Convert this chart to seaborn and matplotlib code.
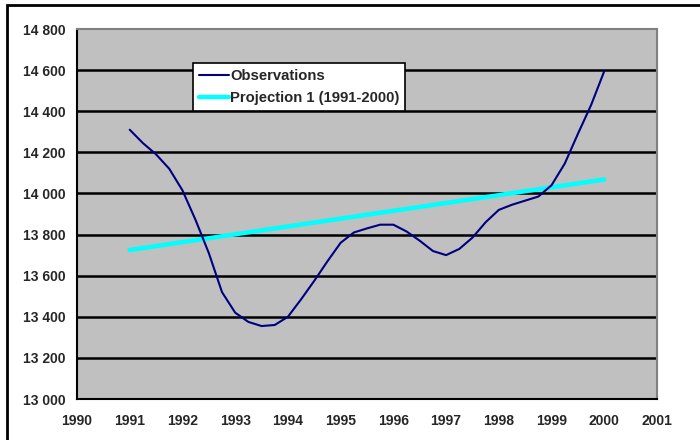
import pandas as pd
import matplotlib
matplotlib.use('Agg')
import matplotlib.pyplot as plt
from matplotlib.patches import Rectangle
from matplotlib.ticker import FuncFormatter
import seaborn as sns

# quarterly observations
obs_year = [1991.00, 1991.25, 1991.50, 1991.75, 1992.00, 1992.25, 1992.50, 1992.75,
            1993.00, 1993.25, 1993.50, 1993.75, 1994.00, 1994.25, 1994.50, 1994.75,
            1995.00, 1995.25, 1995.50, 1995.75, 1996.00, 1996.25, 1996.50, 1996.75,
            1997.00, 1997.25, 1997.50, 1997.75, 1998.00, 1998.25, 1998.50, 1998.75,
            1999.00, 1999.25, 1999.50, 1999.75, 2000.00]
obs_value = [14310, 14245, 14190, 14120, 14015, 13870, 13710, 13520,
             13420, 13375, 13355, 13360, 13400, 13485, 13575, 13670,
             13760, 13810, 13830, 13848, 13848, 13815, 13770, 13720,
             13700, 13730, 13785, 13860, 13920, 13945, 13965, 13985,
             14040, 14145, 14290, 14430, 14595]

proj_year = [1991, 2000]
proj_value = [13725, 14068]

x_ticks = list(range(1990, 2002))
y_ticks = list(range(13000, 14801, 200))

df_obs = pd.DataFrame({'year': obs_year, 'value': obs_value})
df_proj = pd.DataFrame({'year': proj_year, 'value': proj_value})

sns.set_style('white')
plt.rcParams['font.family'] = ['Liberation Sans', 'DejaVu Sans']

fig = plt.figure(figsize=(7, 4.4), dpi=100)
ax = fig.add_axes([77 / 700, 1 - 399 / 440, 580 / 700, 370 / 440])
ax.set_facecolor('#C0C0C0')

# outer chart frame (only left/top visible in the original)
fig.patches.append(Rectangle((7 / 700, -0.1), 1.2, (435 / 440) + 0.1, transform=fig.transFigure,
                             fill=False, edgecolor='black', linewidth=2, zorder=0))

for y in y_ticks[1:-1]:
    ax.axhline(y, color='black', linewidth=1.8, zorder=1)

sns.lineplot(data=df_obs, x='year', y='value', ax=ax, color='#000080', linewidth=1.5,
             label='Observations', zorder=3)
sns.lineplot(data=df_proj, x='year', y='value', ax=ax, color='#00FFFF', linewidth=3.2,
             label='Projection 1 (1991-2000)', zorder=2)

ax.set_xlim(1990, 2001)
ax.set_ylim(13000, 14800)
ax.set_xticks(x_ticks)
ax.set_yticks(y_ticks)
ax.yaxis.set_major_formatter(FuncFormatter(lambda v, p: f'{int(v):,}'.replace(',', ' ')))
ax.set_xlabel('')
ax.set_ylabel('')
ax.tick_params(axis='both', direction='out', length=5, width=1.2, color='black',
               labelsize=10, pad=3)
ax.tick_params(axis='x', pad=6)
for lab in ax.get_xticklabels() + ax.get_yticklabels():
    lab.set_fontweight('bold')

for side in ['top', 'right']:
    ax.spines[side].set_color('#808080')
    ax.spines[side].set_linewidth(1.5)
for side in ['left', 'bottom']:
    ax.spines[side].set_color('black')
    ax.spines[side].set_linewidth(1.5)

leg = ax.legend(loc='upper left', bbox_to_anchor=(0.2, 0.908), borderaxespad=0,
                frameon=True, fancybox=False, framealpha=1, edgecolor='black',
                prop={'weight': 'bold', 'size': 10.7}, handlelength=2.0,
                handletextpad=0.1, borderpad=0.4, labelspacing=0.55)
leg.get_frame().set_linewidth(1.2)
leg.set_zorder(5)

fig.savefig('out.png', dpi=100)
